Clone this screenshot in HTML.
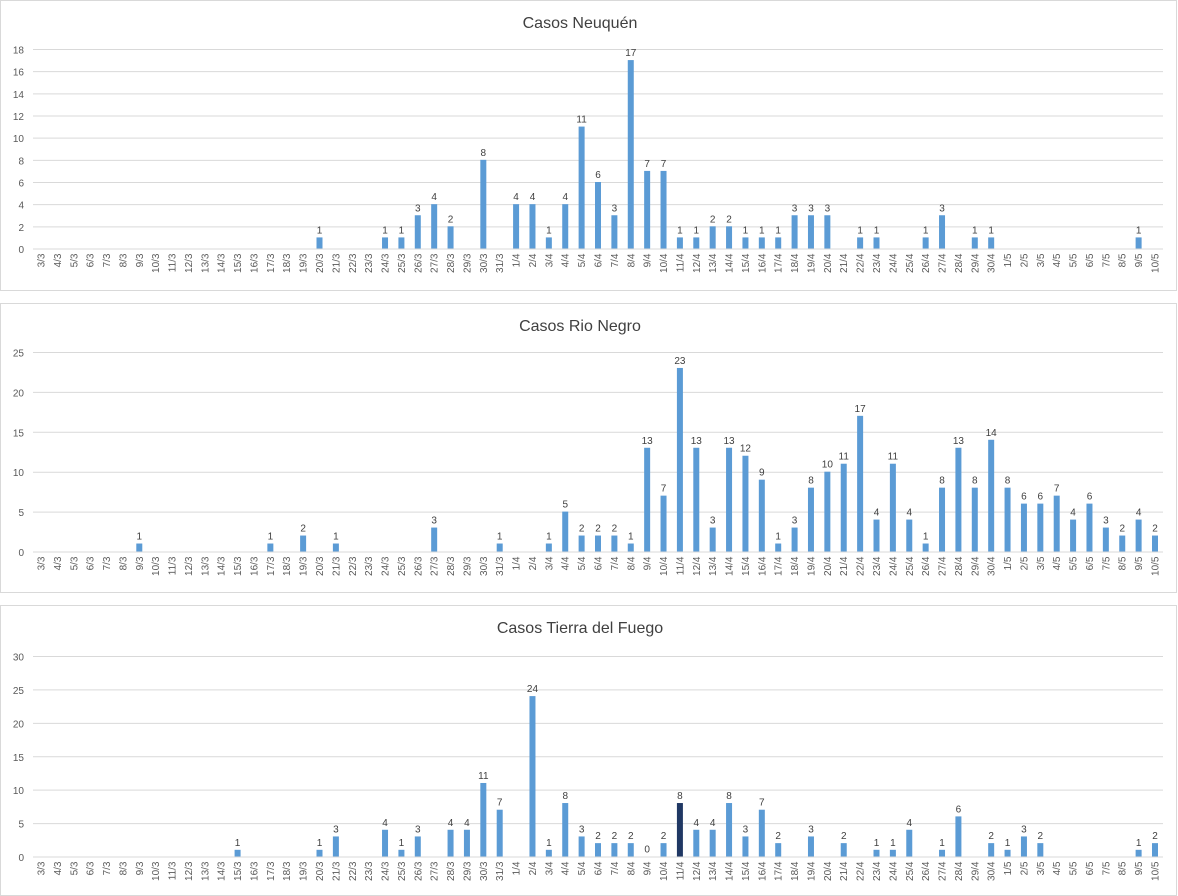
<!DOCTYPE html>
<html><head><meta charset="utf-8"><style>
body{margin:0;background:#fff;font-family:"Liberation Sans",sans-serif}
svg{display:block}
</style></head><body>
<svg id="c" width="1178" height="896"></svg>
<script>
const categories=[];
for(let d=3;d<=31;d++)categories.push(d+"/3");
for(let d=1;d<=30;d++)categories.push(d+"/4");
for(let d=1;d<=10;d++)categories.push(d+"/5");
const neuquenValues={"20/3":1,"24/3":1,"25/3":1,"26/3":3,"27/3":4,"28/3":2,"30/3":8,"1/4":4,"2/4":4,"3/4":1,"4/4":4,"5/4":11,"6/4":6,"7/4":3,"8/4":17,"9/4":7,"10/4":7,"11/4":1,"12/4":1,"13/4":2,"14/4":2,"15/4":1,"16/4":1,"17/4":1,"18/4":3,"19/4":3,"20/4":3,"22/4":1,"23/4":1,"26/4":1,"27/4":3,"29/4":1,"30/4":1,"9/5":1};
const rioNegroValues={"9/3":1,"17/3":1,"19/3":2,"21/3":1,"27/3":3,"31/3":1,"3/4":1,"4/4":5,"5/4":2,"6/4":2,"7/4":2,"8/4":1,"9/4":13,"10/4":7,"11/4":23,"12/4":13,"13/4":3,"14/4":13,"15/4":12,"16/4":9,"17/4":1,"18/4":3,"19/4":8,"20/4":10,"21/4":11,"22/4":17,"23/4":4,"24/4":11,"25/4":4,"26/4":1,"27/4":8,"28/4":13,"29/4":8,"30/4":14,"1/5":8,"2/5":6,"3/5":6,"4/5":7,"5/5":4,"6/5":6,"7/5":3,"8/5":2,"9/5":4,"10/5":2};
const tdfValues={"15/3":1,"20/3":1,"21/3":3,"24/3":4,"25/3":1,"26/3":3,"28/3":4,"29/3":4,"30/3":11,"31/3":7,"2/4":24,"3/4":1,"4/4":8,"5/4":3,"6/4":2,"7/4":2,"8/4":2,"9/4":0,"10/4":2,"11/4":8,"12/4":4,"13/4":4,"14/4":8,"15/4":3,"16/4":7,"17/4":2,"19/4":3,"21/4":2,"23/4":1,"24/4":1,"25/4":4,"27/4":1,"28/4":6,"30/4":2,"1/5":1,"2/5":3,"3/5":2,"9/5":1,"10/5":2};
const neuquenTicks=[0,2,4,6,8,10,12,14,16,18];
const rioNegroTicks=[0,5,10,15,20,25];
const tdfTicks=[0,5,10,15,20,25,30];

const NS="http://www.w3.org/2000/svg";
const svg=document.getElementById("c");
function mk(tag,attrs,parent){const e=document.createElementNS(NS,tag);for(const k in attrs)e.setAttribute(k,attrs[k]);(parent||svg).appendChild(e);return e;}

function panel(slug,title,top,bottom,y0,yTop,ticks,values,highlight){
  const g=mk("g",{});
  
  
  const box=mk("rect",{x:0.5,y:top+0.5,width:1176,height:bottom-top,fill:"#fff",stroke:"#d9d9d9"},g);
  
  
  const t=mk("text",{x:580,y:top+28,"text-anchor":"middle","font-size":"16",fill:"#404040"},g);
  t.textContent=title;
  
  
  const maxT=ticks[ticks.length-1];
  const yScale=v=>y0-(v/maxT)*(y0-yTop);
  const xScale=i=>41+i*(1155-41)/(categories.length-1);
  ticks.forEach(tv=>{
    const y=yScale(tv)+0.5;
    const l=mk("line",{x1:33,x2:1163,y1:y,y2:y,stroke:"#d9d9d9","stroke-width":1},g);
    
    
    const tl=mk("text",{x:24,y:y+4,"text-anchor":"end","font-size":"10",fill:"#595959"},g);
    tl.textContent=tv;
    
    
  });
  categories.forEach((c,i)=>{
    const x=xScale(i);
    const xl=mk("text",{x:0,y:0,"text-anchor":"end","font-size":"10",fill:"#595959",transform:`translate(${x+3.5},${y0+5}) rotate(-90)`},g);
    xl.textContent=c;
    
    
    if(c in values){
      const v=values[c];
      const y=yScale(v);
      const b=mk("rect",{x:x-3,y:y,width:6,height:y0-y,fill:c===highlight?"#203864":"#5b9bd5"},g);
      
      
      const vl=mk("text",{x:x,y:y-4,"text-anchor":"middle","font-size":"10",fill:"#404040"},g);
      vl.textContent=v;
      
      
    }
  });
}
panel("neuquen","Casos Neuquén",0,290,248.5,49,neuquenTicks,neuquenValues,null);
panel("rio-negro","Casos Rio Negro",303,592,551.5,352,rioNegroTicks,rioNegroValues,null);
panel("tierra-del-fuego","Casos Tierra del Fuego",605,895,856.5,656,tdfTicks,tdfValues,"11/4");
</script>
</body></html>
